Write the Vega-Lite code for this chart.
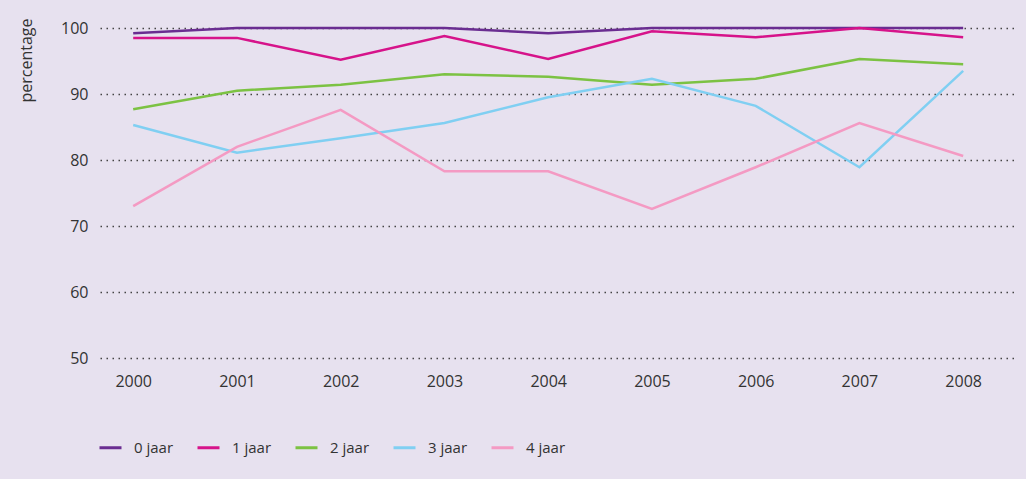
{
  "$schema": "https://vega.github.io/schema/vega-lite/v6.json",
  "autosize": "none",
  "width": 914,
  "height": 330,
  "padding": {"left": 100, "top": 28, "right": 12, "bottom": 121},
  "background": "#e7e1ef",
  "config": {
    "view": {"stroke": null},
    "font": "Open Sans",
    "axis": {"labelFont": "Open Sans", "titleFont": "Open Sans", "labelColor": "#333333", "titleColor": "#333333"},
    "legend": {"labelFont": "Open Sans"}
  },
  "data": {
    "values": [
      {"jaar": 2000, "groep": "0 jaar", "pct": 99.2},
      {"jaar": 2001, "groep": "0 jaar", "pct": 100},
      {"jaar": 2002, "groep": "0 jaar", "pct": 100},
      {"jaar": 2003, "groep": "0 jaar", "pct": 100},
      {"jaar": 2004, "groep": "0 jaar", "pct": 99.2},
      {"jaar": 2005, "groep": "0 jaar", "pct": 100},
      {"jaar": 2006, "groep": "0 jaar", "pct": 100},
      {"jaar": 2007, "groep": "0 jaar", "pct": 100},
      {"jaar": 2008, "groep": "0 jaar", "pct": 100},
      {"jaar": 2000, "groep": "1 jaar", "pct": 98.5},
      {"jaar": 2001, "groep": "1 jaar", "pct": 98.5},
      {"jaar": 2002, "groep": "1 jaar", "pct": 95.2},
      {"jaar": 2003, "groep": "1 jaar", "pct": 98.8},
      {"jaar": 2004, "groep": "1 jaar", "pct": 95.3},
      {"jaar": 2005, "groep": "1 jaar", "pct": 99.5},
      {"jaar": 2006, "groep": "1 jaar", "pct": 98.6},
      {"jaar": 2007, "groep": "1 jaar", "pct": 100},
      {"jaar": 2008, "groep": "1 jaar", "pct": 98.6},
      {"jaar": 2000, "groep": "2 jaar", "pct": 87.7},
      {"jaar": 2001, "groep": "2 jaar", "pct": 90.5},
      {"jaar": 2002, "groep": "2 jaar", "pct": 91.4},
      {"jaar": 2003, "groep": "2 jaar", "pct": 93.0},
      {"jaar": 2004, "groep": "2 jaar", "pct": 92.6},
      {"jaar": 2005, "groep": "2 jaar", "pct": 91.4},
      {"jaar": 2006, "groep": "2 jaar", "pct": 92.3},
      {"jaar": 2007, "groep": "2 jaar", "pct": 95.3},
      {"jaar": 2008, "groep": "2 jaar", "pct": 94.5},
      {"jaar": 2000, "groep": "3 jaar", "pct": 85.3},
      {"jaar": 2001, "groep": "3 jaar", "pct": 81.1},
      {"jaar": 2002, "groep": "3 jaar", "pct": 83.3},
      {"jaar": 2003, "groep": "3 jaar", "pct": 85.6},
      {"jaar": 2004, "groep": "3 jaar", "pct": 89.5},
      {"jaar": 2005, "groep": "3 jaar", "pct": 92.3},
      {"jaar": 2006, "groep": "3 jaar", "pct": 88.2},
      {"jaar": 2007, "groep": "3 jaar", "pct": 78.9},
      {"jaar": 2008, "groep": "3 jaar", "pct": 93.5},
      {"jaar": 2000, "groep": "4 jaar", "pct": 73.0},
      {"jaar": 2001, "groep": "4 jaar", "pct": 82.0},
      {"jaar": 2002, "groep": "4 jaar", "pct": 87.6},
      {"jaar": 2003, "groep": "4 jaar", "pct": 78.3},
      {"jaar": 2004, "groep": "4 jaar", "pct": 78.3},
      {"jaar": 2005, "groep": "4 jaar", "pct": 72.6},
      {"jaar": 2006, "groep": "4 jaar", "pct": 78.9},
      {"jaar": 2007, "groep": "4 jaar", "pct": 85.6},
      {"jaar": 2008, "groep": "4 jaar", "pct": 80.6}
    ]
  },
  "mark": {"type": "line", "strokeWidth": 2.5, "interpolate": "linear"},
  "encoding": {
    "x": {
      "field": "jaar",
      "type": "quantitative",
      "scale": {"domain": [1999.68, 2008.49], "nice": false, "zero": false},
      "axis": {
        "values": [2000, 2001, 2002, 2003, 2004, 2005, 2006, 2007, 2008],
        "format": "d",
        "title": null,
        "grid": false,
        "domain": false,
        "ticks": false,
        "labelFontSize": 16,
        "labelPadding": 15
      }
    },
    "y": {
      "field": "pct",
      "type": "quantitative",
      "scale": {"domain": [50, 100], "nice": false, "zero": false},
      "axis": {
        "values": [50, 60, 70, 80, 90, 100],
        "title": "percentage",
        "titleFontSize": 16,
        "titleFontWeight": "normal",
        "titleAngle": -90,
        "titleAlign": "right",
        "titleBaseline": "alphabetic",
        "titleX": -69,
        "titleY": -10,
        "domain": false,
        "ticks": false,
        "labelFontSize": 16,
        "labelPadding": 12,
        "grid": true,
        "gridColor": "#444444",
        "gridDash": [1.5, 4.5],
        "gridWidth": 1.5
      }
    },
    "color": {
      "field": "groep",
      "type": "nominal",
      "scale": {
        "domain": ["0 jaar", "1 jaar", "2 jaar", "3 jaar", "4 jaar"],
        "range": ["#6a2d91", "#d6138a", "#7cc243", "#80cff2", "#f49ac3"]
      },
      "legend": {
        "title": null,
        "orient": "none",
        "direction": "horizontal",
        "legendX": -2,
        "legendY": 407,
        "symbolType": "stroke",
        "symbolSize": 484,
        "symbolStrokeWidth": 3,
        "labelFontSize": 15,
        "labelColor": "#333333",
        "labelOffset": 11,
        "columnPadding": 17
      }
    }
  }
}
